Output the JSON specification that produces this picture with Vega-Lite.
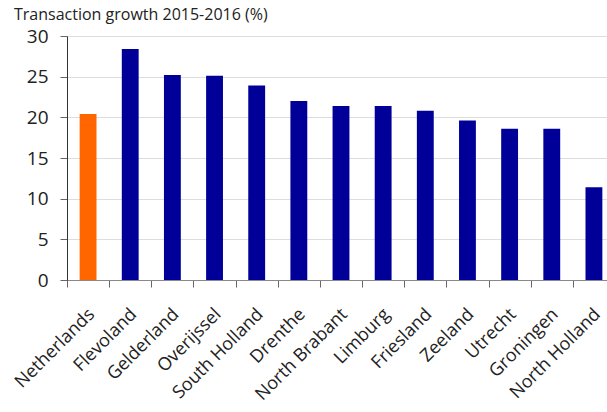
{
  "$schema": "https://vega.github.io/schema/vega-lite/v6.json",
  "width": 540,
  "height": 244,
  "autosize": "none",
  "padding": {"left": 67, "top": 36, "right": 0, "bottom": 132},
  "background": "white",
  "title": {
    "text": "Transaction growth 2015-2016 (%)",
    "anchor": "start",
    "frame": "group",
    "dx": -53,
    "offset": 4,
    "font": "Open Sans",
    "fontSize": 16,
    "fontWeight": "normal",
    "color": "#222222"
  },
  "data": {
    "values": [
      {"region": "Netherlands", "growth": 20.4, "group": "National"},
      {"region": "Flevoland", "growth": 28.4, "group": "Province"},
      {"region": "Gelderland", "growth": 25.2, "group": "Province"},
      {"region": "Overijssel", "growth": 25.1, "group": "Province"},
      {"region": "South Holland", "growth": 23.9, "group": "Province"},
      {"region": "Drenthe", "growth": 22.0, "group": "Province"},
      {"region": "North Brabant", "growth": 21.4, "group": "Province"},
      {"region": "Limburg", "growth": 21.4, "group": "Province"},
      {"region": "Friesland", "growth": 20.8, "group": "Province"},
      {"region": "Zeeland", "growth": 19.6, "group": "Province"},
      {"region": "Utrecht", "growth": 18.6, "group": "Province"},
      {"region": "Groningen", "growth": 18.6, "group": "Province"},
      {"region": "North Holland", "growth": 11.4, "group": "Province"}
    ]
  },
  "mark": {"type": "bar", "width": {"band": 0.4}},
  "encoding": {
    "x": {
      "field": "region",
      "type": "nominal",
      "sort": null,
      "scale": {"range": [0, 548], "paddingInner": 0, "paddingOuter": 0},
      "axis": {
        "title": null,
        "labelAngle": -45,
        "labelFont": "Open Sans",
        "labelFontSize": 18,
        "labelColor": "#222222",
        "labelPadding": 18,
        "labelOffset": -3,
        "tickBand": "extent",
        "tickSize": 7,
        "tickColor": "#666666",
        "domainColor": "#888888",
        "grid": false
      }
    },
    "y": {
      "field": "growth",
      "type": "quantitative",
      "scale": {"domain": [0, 30], "nice": false},
      "axis": {
        "title": null,
        "values": [0, 5, 10, 15, 20, 25, 30],
        "labelFont": "Open Sans",
        "labelFontSize": 19,
        "labelColor": "#222222",
        "labelPadding": 12,
        "tickSize": 7,
        "tickColor": "#666666",
        "domainColor": "#333333",
        "gridColor": "#dddddd",
        "grid": true
      }
    },
    "color": {
      "field": "group",
      "type": "nominal",
      "scale": {"domain": ["National", "Province"], "range": ["#ff6600", "#000099"]},
      "legend": null
    }
  },
  "config": {"view": {"stroke": null}}
}
